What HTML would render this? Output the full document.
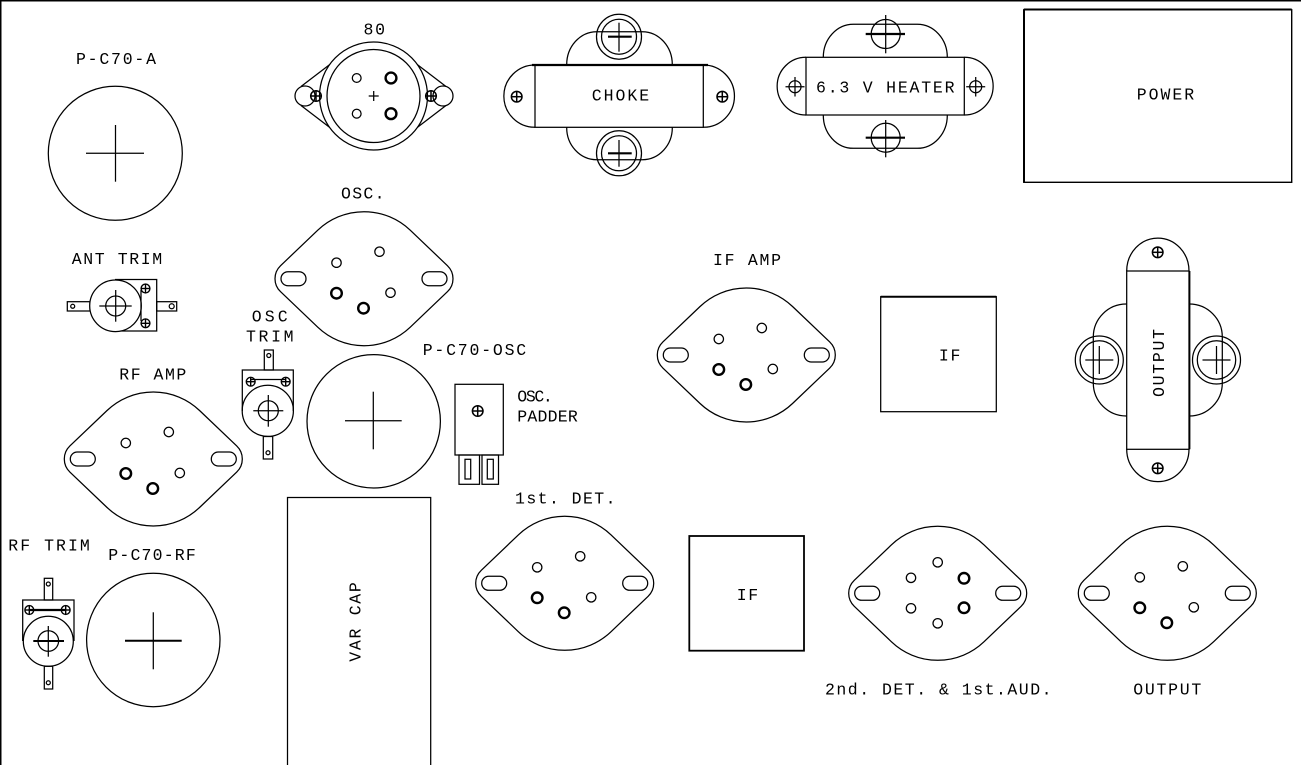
<!DOCTYPE html>
<html>
<head>
<meta charset="utf-8">
<style>
html,body{margin:0;padding:0;background:#fff;}
svg{display:block;}
.s{fill:none;stroke:#000;stroke-width:1.25;}
.b{fill:none;stroke:#000;stroke-width:2.4;}
.t{font-family:"Liberation Mono","DejaVu Sans Mono",monospace;font-size:16.5px;fill:#000;}
</style>
</head>
<body>
<svg width="1301" height="765" viewBox="0 0 1301 765" xmlns="http://www.w3.org/2000/svg">
<defs>
  <g id="sock">
    <path class="s" d="M-46.24,-48.49 A67,67 0 0 1 46.24,-48.49 L83.42,-13.03 A18,18 0 0 1 83.42,13.03 L46.24,48.49 A67,67 0 0 1 -46.24,48.49 L-83.42,13.03 A18,18 0 0 1 -83.42,-13.03 Z"/>
    <rect class="s" x="-83" y="-7" width="25" height="14" rx="7" ry="7"/>
    <rect class="s" x="58" y="-7" width="25" height="14" rx="7" ry="7"/>
  </g>
  <g id="pinsA">
    <circle class="s" cx="-27.5" cy="-16" r="4.7"/>
    <circle class="s" cx="15.5" cy="-27" r="4.7"/>
    <circle class="b" cx="-27.5" cy="14.5" r="5.3"/>
    <circle class="s" cx="26.5" cy="14" r="4.7"/>
    <circle class="b" cx="-0.5" cy="29.5" r="5.3"/>
  </g>
  <g id="scr">
    <circle fill="none" stroke="#000" stroke-width="1.5" r="5.3"/>
    <line stroke="#000" stroke-width="1.5" x1="-5.3" y1="0" x2="5.3" y2="0"/>
    <line stroke="#000" stroke-width="1.5" x1="0" y1="-5.3" x2="0" y2="5.3"/>
  </g>
  <g id="scrs">
    <circle fill="none" stroke="#000" stroke-width="1.4" r="4.4"/>
    <line stroke="#000" stroke-width="1.4" x1="-4.4" y1="0" x2="4.4" y2="0"/>
    <line stroke="#000" stroke-width="1.4" x1="0" y1="-4.4" x2="0" y2="4.4"/>
  </g>
</defs>

<!-- border -->
<line x1="0" y1="0.75" x2="1301" y2="0.75" stroke="#000" stroke-width="1.5"/>
<line x1="0.75" y1="0" x2="0.75" y2="765" stroke="#000" stroke-width="1.5"/>

<!-- P-C70-A -->
<text class="t" x="76" y="64" textLength="80" lengthAdjust="spacing">P-C70-A</text>
<circle class="s" cx="115.3" cy="153.3" r="67"/>
<line class="s" x1="86" y1="153.3" x2="144" y2="153.3"/>
<line class="s" x1="115.5" y1="125" x2="115.5" y2="181.7"/>

<!-- 80 socket -->
<text class="t" x="363.5" y="34.3" textLength="21.5" lengthAdjust="spacing">80</text>
<circle class="s" cx="305" cy="96" r="10"/>
<circle class="s" cx="443" cy="96" r="10"/>
<line class="s" x1="301" y1="86.5" x2="337" y2="59"/>
<line class="s" x1="301" y1="105.5" x2="337" y2="133"/>
<line class="s" x1="446" y1="86.5" x2="410" y2="59"/>
<line class="s" x1="446" y1="105.5" x2="410" y2="133"/>
<circle class="s" cx="373.5" cy="96" r="54" fill="#fff" style="fill:#fff"/>
<circle class="s" cx="373.5" cy="96" r="46.5"/>
<use href="#scr" x="316" y="96"/>
<use href="#scr" x="431" y="96"/>
<circle class="s" cx="356.7" cy="78" r="4.4"/>
<circle class="s" cx="356.7" cy="113.7" r="4.4"/>
<circle class="b" cx="391" cy="78" r="5.4"/>
<circle class="b" cx="391" cy="113.7" r="5.4"/>
<line class="s" x1="368.7" y1="96" x2="378.7" y2="96"/>
<line class="s" x1="373.7" y1="91" x2="373.7" y2="101"/>

<!-- CHOKE -->
<path class="s" d="M566.7,65 A30,33 0 0 1 596.7,31.7 L642.3,31.7 A30,33 0 0 1 672.3,65"/>
<path class="s" d="M566.7,127.3 A30,32 0 0 0 596.7,159.7 L642.3,159.7 A30,32 0 0 0 672.3,127.3"/>
<rect class="s" x="535" y="65" width="168.3" height="62.3"/>
<line x1="532" y1="65" x2="708" y2="65" stroke="#000" stroke-width="2.2"/>
<path class="s" d="M535,65 A31.15,31.15 0 0 0 535,127.3"/>
<path class="s" d="M703.3,65 A31.15,31.15 0 0 1 703.3,127.3"/>
<use href="#scr" x="516.7" y="96.7"/>
<use href="#scr" x="722.3" y="96.7"/>
<circle class="s" cx="619" cy="36.7" r="22.5"/>
<circle class="s" cx="619" cy="36.7" r="17.5"/>
<line x1="608" y1="36.7" x2="631.7" y2="36.7" stroke="#000" stroke-width="2.2"/>
<line class="s" x1="619" y1="22.7" x2="619" y2="51.7"/>
<circle class="s" cx="619" cy="153.3" r="22.5"/>
<circle class="s" cx="619" cy="153.3" r="17.5"/>
<line x1="608" y1="153.3" x2="631.7" y2="153.3" stroke="#000" stroke-width="2.2"/>
<line class="s" x1="619" y1="140" x2="619" y2="166.7"/>
<text class="t" x="591.7" y="100.7" textLength="57.5" lengthAdjust="spacing">CHOKE</text>

<!-- 6.3 V HEATER -->
<path class="s" d="M823.3,57.3 A30,33 0 0 1 853.3,24.3 L917.3,24.3 A30,33 0 0 1 947.3,57.3"/>
<path class="s" d="M823.3,115 A30,33 0 0 0 853.3,148.3 L917.3,148.3 A30,33 0 0 0 947.3,115"/>
<rect class="s" x="806" y="57.3" width="158.3" height="57.7"/>
<path class="s" d="M806,57.3 A28.85,28.85 0 0 0 806,115"/>
<path class="s" d="M964.3,57.3 A28.85,28.85 0 0 1 964.3,115"/>
<circle class="s" cx="795" cy="86.7" r="6"/>
<line class="s" x1="785.5" y1="86.7" x2="804.5" y2="86.7"/>
<line class="s" x1="795" y1="77" x2="795" y2="96.5"/>
<circle class="s" cx="975.7" cy="86.7" r="6"/>
<line class="s" x1="966.2" y1="86.7" x2="985.2" y2="86.7"/>
<line class="s" x1="975.7" y1="77" x2="975.7" y2="96.5"/>
<circle class="s" cx="885.7" cy="34" r="14.5"/>
<line x1="865.7" y1="34" x2="905" y2="34" stroke="#000" stroke-width="2.2"/>
<line class="s" x1="885.7" y1="15" x2="885.7" y2="53.3"/>
<circle class="s" cx="885.7" cy="137.7" r="14.5"/>
<line x1="865.7" y1="137.7" x2="905" y2="137.7" stroke="#000" stroke-width="2.2"/>
<line class="s" x1="885.7" y1="120" x2="885.7" y2="157.3"/>
<text class="t" x="816" y="92.7" textLength="138.5" lengthAdjust="spacing">6.3 V HEATER</text>

<!-- POWER -->
<rect x="1023.8" y="9.8" width="267.9" height="172.5" fill="none" stroke="#000" stroke-width="1.4"/>
<line x1="1023.8" y1="9.5" x2="1291.7" y2="9.5" stroke="#000" stroke-width="2"/>
<line x1="1024" y1="9.5" x2="1024" y2="182.3" stroke="#000" stroke-width="2"/>
<text class="t" x="1136.7" y="99.3" textLength="57.5" lengthAdjust="spacing">POWER</text>

<!-- OSC socket -->
<text class="t" x="341" y="198.3" textLength="43.5" lengthAdjust="spacing">OSC.</text>
<use href="#sock" x="364" y="278.7"/>
<use href="#pinsA" x="364" y="278.7"/>

<!-- ANT TRIM -->
<text class="t" x="71.7" y="264" textLength="90.5" lengthAdjust="spacing">ANT TRIM</text>
<rect class="s" x="67.3" y="301.7" width="22.7" height="9.3"/>
<circle class="s" cx="72.7" cy="306.3" r="2"/>
<rect class="s" x="156.7" y="301.7" width="20" height="9.3"/>
<circle class="s" cx="171.7" cy="306.3" r="2.5"/>
<path class="s" d="M115,279.5 H156.7 V331 H115"/>
<circle class="s" cx="115.5" cy="305.8" r="25.8" style="fill:#fff"/>
<circle class="s" cx="115.7" cy="306" r="10"/>
<line class="s" x1="99.3" y1="306" x2="131.7" y2="306"/>
<line class="s" x1="115.7" y1="290" x2="115.7" y2="321.7"/>
<line class="s" x1="141" y1="290" x2="141" y2="321"/>
<use href="#scrs" x="145.5" y="288.5"/>
<use href="#scrs" x="145.5" y="323.3"/>

<!-- OSC TRIM -->
<text class="t" x="251.7" y="321.7" textLength="36" lengthAdjust="spacing">OSC</text>
<text class="t" x="246" y="341.7" textLength="47.5" lengthAdjust="spacing">TRIM</text>
<rect class="s" x="264.3" y="350" width="9" height="20"/>
<circle class="s" cx="268.8" cy="355.5" r="2"/>
<path class="s" d="M242.3,411 V370 H293.3 V411"/>
<line class="s" x1="250.7" y1="379.5" x2="285.7" y2="379.5"/>
<use href="#scrs" x="250.7" y="381.7"/>
<use href="#scrs" x="285.7" y="381.7"/>
<circle class="s" cx="267.8" cy="410.8" r="25.6"/>
<circle class="s" cx="268.3" cy="410.7" r="10"/>
<line class="s" x1="253.3" y1="410.7" x2="283.3" y2="410.7"/>
<line class="s" x1="268.3" y1="395" x2="268.3" y2="426.7"/>
<rect class="s" x="263.3" y="436.5" width="9.4" height="22.5"/>
<circle class="s" cx="268" cy="452.7" r="2"/>

<!-- P-C70-OSC -->
<text class="t" x="422.7" y="355" textLength="103.5" lengthAdjust="spacing">P-C70-OSC</text>
<circle class="s" cx="373.7" cy="421.3" r="66.7"/>
<line class="s" x1="345" y1="420.7" x2="401.7" y2="420.7"/>
<line class="s" x1="373.3" y1="391.7" x2="373.3" y2="449.3"/>

<!-- OSC PADDER -->
<rect class="s" x="455" y="384.3" width="48.3" height="70.7"/>
<use href="#scr" x="477.7" y="411"/>
<rect class="s" x="459" y="455" width="20.5" height="29.3"/>
<rect class="s" x="482" y="455" width="16.5" height="29.3"/>
<rect class="s" x="465" y="459.3" width="5.7" height="19.7"/>
<rect class="s" x="487.3" y="459.3" width="6" height="19.7"/>
<text class="t" x="517.3" y="401.7" textLength="35.5" lengthAdjust="spacing">OSC.</text>
<text class="t" x="517.3" y="421.7" textLength="60.5" lengthAdjust="spacing">PADDER</text>

<!-- RF AMP -->
<text class="t" x="119.3" y="379.3" textLength="67" lengthAdjust="spacing">RF AMP</text>
<use href="#sock" x="153.3" y="459"/>
<use href="#pinsA" x="153.3" y="459"/>

<!-- RF TRIM -->
<text class="t" x="8.3" y="550.7" textLength="81.5" lengthAdjust="spacing">RF TRIM</text>
<rect class="s" x="44.3" y="578.3" width="8.4" height="21.7"/>
<circle class="s" cx="48.3" cy="584" r="2"/>
<path class="s" d="M22.7,641 V600 H74 V641"/>
<line x1="29.3" y1="610" x2="65.7" y2="610" stroke="#000" stroke-width="2.2"/>
<use href="#scrs" x="29.3" y="610"/>
<use href="#scrs" x="65.7" y="610"/>
<circle class="s" cx="48.3" cy="641.3" r="25"/>
<circle class="s" cx="48.3" cy="641" r="10.3"/>
<line x1="33.3" y1="641" x2="64" y2="641" stroke="#000" stroke-width="2"/>
<line class="s" x1="48.3" y1="626" x2="48.3" y2="656.7"/>
<rect class="s" x="44.3" y="666.3" width="8.4" height="22.7"/>
<circle class="s" cx="48.3" cy="682.7" r="2"/>

<!-- P-C70-RF -->
<text class="t" x="108.3" y="560" textLength="87.5" lengthAdjust="spacing">P-C70-RF</text>
<circle class="s" cx="153.3" cy="640" r="66.7"/>
<line x1="125" y1="640.7" x2="181.7" y2="640.7" stroke="#000" stroke-width="2"/>
<line class="s" x1="153.3" y1="612.3" x2="153.3" y2="669.3"/>

<!-- VAR CAP -->
<rect class="s" x="287.5" y="497.5" width="143.2" height="290"/>
<text class="t" transform="translate(360.7,661.7) rotate(-90)" x="0" y="0" textLength="79.5" lengthAdjust="spacing">VAR CAP</text>

<!-- IF AMP -->
<text class="t" x="713" y="265" textLength="68" lengthAdjust="spacing">IF AMP</text>
<use href="#sock" x="746.3" y="355"/>
<use href="#pinsA" x="746.3" y="355"/>

<!-- IF upper -->
<rect class="s" x="880.7" y="296.7" width="115.6" height="115"/>
<line x1="880.7" y1="296.7" x2="996.3" y2="296.7" stroke="#000" stroke-width="2"/>
<text class="t" x="938.9" y="360.7" textLength="21.5" lengthAdjust="spacing">IF</text>

<!-- OUTPUT transformer -->
<path class="s" d="M1126.7,304 A33,33 0 0 0 1093.3,337 L1093.3,383 A33,33 0 0 0 1126.7,416"/>
<path class="s" d="M1189,304 A33,33 0 0 1 1222.3,337 L1222.3,383 A33,33 0 0 1 1189,416"/>
<rect class="s" x="1126.7" y="271" width="62.3" height="178.3"/>
<line x1="1189.5" y1="271" x2="1189.5" y2="449.3" stroke="#000" stroke-width="1.8"/>
<path class="s" d="M1126.7,271 A31.15,33 0 0 1 1189,271"/>
<path class="s" d="M1126.7,449.3 A31.15,32.4 0 0 0 1189,449.3"/>
<use href="#scr" x="1157.7" y="252.3"/>
<use href="#scr" x="1157.7" y="468.3"/>
<circle class="s" cx="1099.3" cy="360" r="24"/>
<circle class="s" cx="1099.3" cy="360" r="19.2"/>
<line class="s" x1="1085.3" y1="360" x2="1113.3" y2="360"/>
<line class="s" x1="1099.3" y1="346" x2="1099.3" y2="374"/>
<circle class="s" cx="1216.5" cy="360" r="24"/>
<circle class="s" cx="1216.5" cy="360" r="19.2"/>
<line class="s" x1="1202.5" y1="360" x2="1230.5" y2="360"/>
<line class="s" x1="1216.5" y1="346" x2="1216.5" y2="374"/>
<text class="t" transform="translate(1164,397) rotate(-90)" x="0" y="0" textLength="68" lengthAdjust="spacing">OUTPUT</text>

<!-- 1st DET -->
<text class="t" x="515" y="503.3" textLength="100.5" lengthAdjust="spacing">1st. DET.</text>
<use href="#sock" x="564.7" y="583.3"/>
<use href="#pinsA" x="564.7" y="583.3"/>

<!-- IF lower -->
<rect x="689.3" y="536" width="114.7" height="114.7" fill="none" stroke="#000" stroke-width="1.8"/>
<text class="t" x="736.7" y="600" textLength="21.5" lengthAdjust="spacing">IF</text>

<!-- 2nd DET -->
<use href="#sock" x="937.7" y="593.3"/>
<circle class="s" cx="911" cy="577.8" r="4.7"/>
<circle class="s" cx="937.7" cy="562.3" r="4.7"/>
<circle class="b" cx="964" cy="578.3" r="5.3"/>
<circle class="s" cx="911" cy="608.3" r="4.7"/>
<circle class="b" cx="964" cy="607.8" r="5.3"/>
<circle class="s" cx="937.7" cy="623.3" r="4.7"/>
<text class="t" x="825" y="694.3" textLength="226.5" lengthAdjust="spacing">2nd. DET. &amp; 1st.AUD.</text>

<!-- OUTPUT socket -->
<use href="#sock" x="1167.3" y="593.3"/>
<use href="#pinsA" x="1167.3" y="593.3"/>
<text class="t" x="1133.3" y="694.3" textLength="68" lengthAdjust="spacing">OUTPUT</text>
</svg>
</body>
</html>
